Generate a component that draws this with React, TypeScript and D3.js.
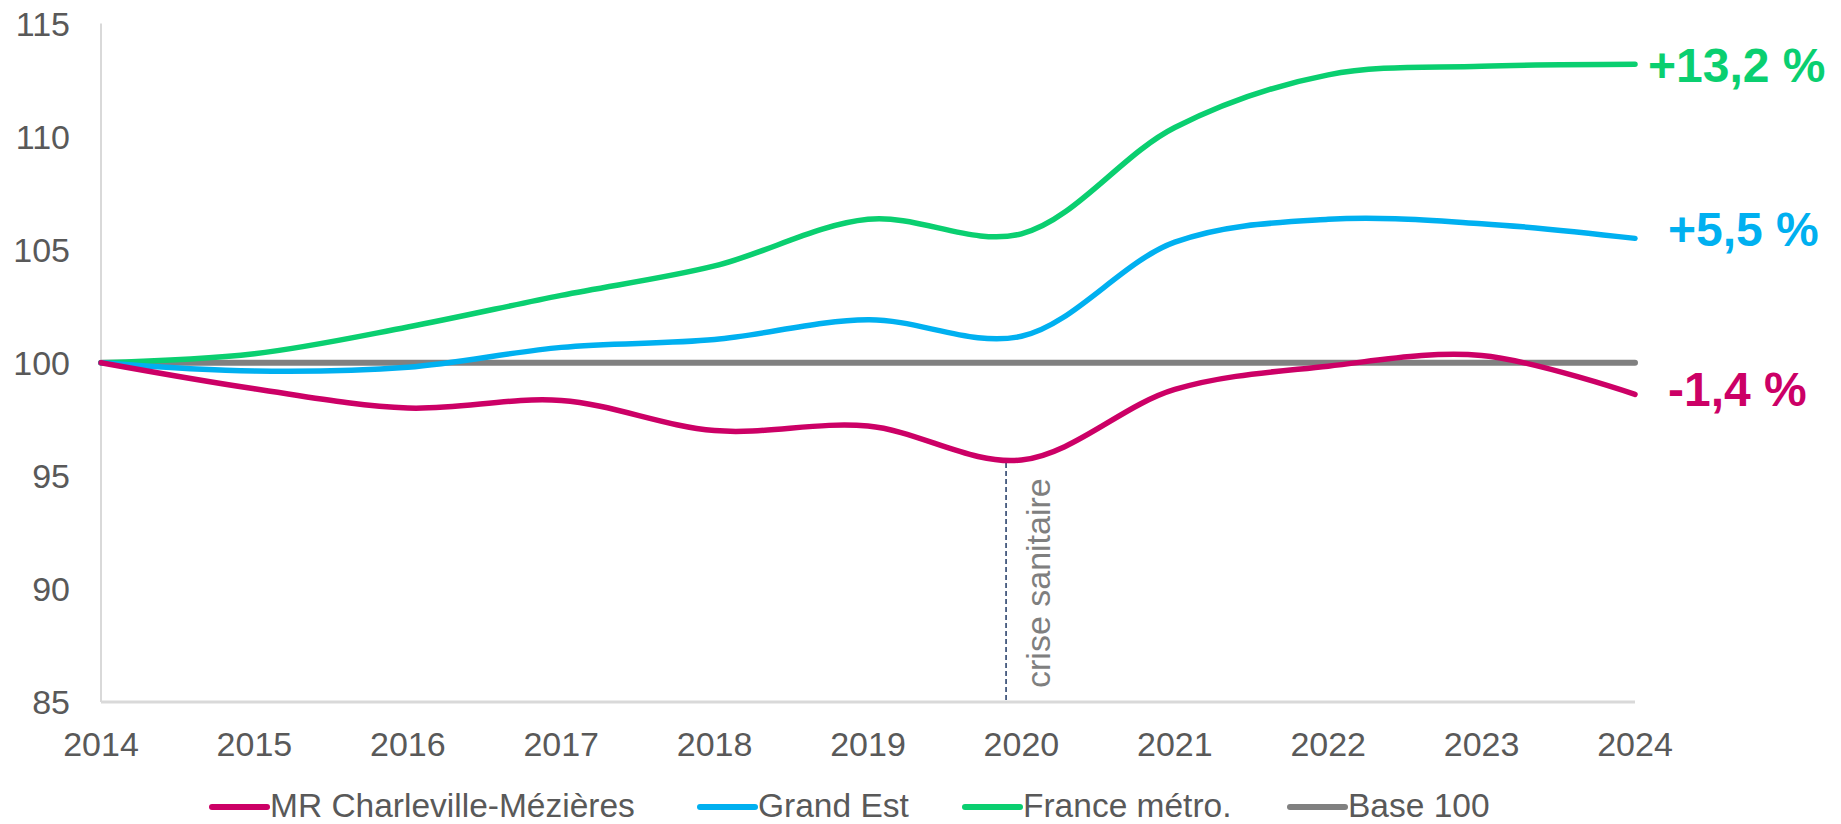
import React from "react";
import * as d3 from "d3";

const years = [2014, 2015, 2016, 2017, 2018, 2019, 2020, 2021, 2022, 2023, 2024];
const charleville = [100, 98.85, 98.0, 98.33, 97.0, 97.2, 95.7, 98.82, 99.85, 100.32, 98.6];
const grandEst = [100, 99.63, 99.8, 100.68, 101.03, 101.9, 101.17, 105.33, 106.34, 106.15, 105.5];
const france = [100, 100.4, 101.58, 102.98, 104.28, 106.34, 105.7, 110.4, 112.73, 113.11, 113.2];
const base100 = [100, 100, 100, 100, 100, 100, 100, 100, 100, 100, 100];
const yTicks = [85, 90, 95, 100, 105, 110, 115];
const seriesNames = ["MR Charleville-Mézières", "Grand Est", "France métro.", "Base 100"];
const seriesColors = ["#CC0066", "#00B0F0", "#0ACF70", "#808080"];
const endLabels = ["-1,4 %", "+5,5 %", "+13,2 %"];
const crisisYear = 2019.9;
const crisisLabel = "crise sanitaire";

const W = 1841;
const H = 824;
const FONT = "'Liberation Sans', Arial, sans-serif";

export default function App() {
  const x = d3.scaleLinear().domain([2014, 2024]).range([101, 1635]);
  const y = d3.scaleLinear().domain([85, 115]).range([702, 23.5]);
  const line = d3
    .line<number>()
    .x((_, i) => x(years[i]))
    .y((d) => y(d))
    .curve(d3.curveCatmullRom.alpha(0.5));

  const data = [charleville, grandEst, france, base100];
  const drawOrder = [3, 2, 1, 0];

  const crisisX = x(crisisYear);
  const crisisTopY = y(d3.min(charleville) as number) + 3;

  const labelPos = [
    { x: 1668, y: 406 },
    { x: 1668, y: 246 },
    { x: 1648, y: 82 },
  ];

  const legendX = [212, 700, 965, 1290];
  const legendY = 805;

  return (
    <svg
      width={W}
      height={H}
      style={{ position: "absolute", left: 0, top: 0, background: "#fff" }}
      fontFamily={FONT}
    >
      <line x1={x(2014)} x2={x(2014)} y1={y(115)} y2={y(85)} stroke="#D9D9D9" strokeWidth={2} />
      <line x1={x(2014)} x2={x(2024)} y1={y(85)} y2={y(85)} stroke="#D9D9D9" strokeWidth={3} />

      {yTicks.map((t) => (
        <text
          key={t}
          x={70}
          y={y(t)}
          textAnchor="end"
          dominantBaseline="central"
          fontSize={34}
          fill="#595959"
        >
          {t}
        </text>
      ))}
      {years.map((yr) => (
        <text
          key={yr}
          x={x(yr)}
          y={744}
          textAnchor="middle"
          dominantBaseline="central"
          fontSize={34}
          fill="#595959"
        >
          {yr}
        </text>
      ))}

      <line
        x1={crisisX}
        x2={crisisX}
        y1={crisisTopY}
        y2={y(85)}
        stroke="#1F3864"
        strokeWidth={1.5}
        strokeDasharray="5 3"
      />
      <text
        transform={`translate(${crisisX + 44}, 688) rotate(-90)`}
        fontSize={34}
        fill="#7F7F7F"
      >
        {crisisLabel}
      </text>

      {drawOrder.map((i) => (
        <path
          key={i}
          d={line(data[i]) || ""}
          fill="none"
          stroke={seriesColors[i]}
          strokeWidth={i === 3 ? 6 : 5.5}
          strokeLinecap="round"
          strokeLinejoin="round"
        />
      ))}

      {endLabels.map((l, i) => (
        <text
          key={l}
          x={labelPos[i].x}
          y={labelPos[i].y}
          fontSize={48}
          fontWeight="bold"
          fill={seriesColors[i]}
        >
          {l}
        </text>
      ))}

      {seriesNames.map((n, i) => (
        <g key={n}>
          <line
            x1={legendX[i]}
            x2={legendX[i] + 55}
            y1={legendY + 2}
            y2={legendY + 2}
            stroke={seriesColors[i]}
            strokeWidth={6}
            strokeLinecap="round"
          />
          <text
            x={legendX[i] + 58}
            y={legendY}
            dominantBaseline="central"
            fontSize={33.5}
            fill="#595959"
          >
            {n}
          </text>
        </g>
      ))}
    </svg>
  );
}
